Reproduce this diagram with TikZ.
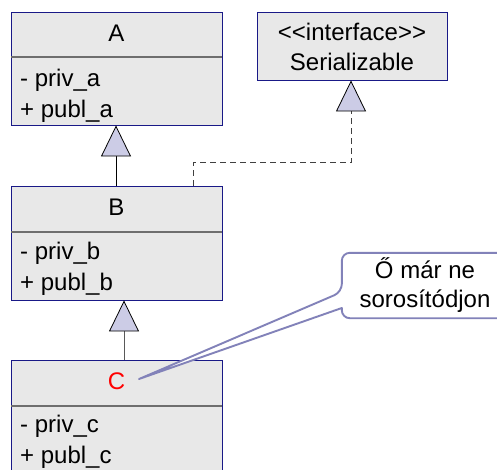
\documentclass[tikz,border=0pt]{standalone}
\usepackage{fontspec}
\setmainfont{Liberation Sans}
\usetikzlibrary{arrows.meta,positioning,calc}
\definecolor{umlborder}{RGB}{25,25,135}
\definecolor{umlfill}{RGB}{232,232,232}
\definecolor{umlsep}{RGB}{110,110,110}
\definecolor{trifill}{RGB}{204,204,230}
\definecolor{notecol}{RGB}{130,130,185}
\tikzset{
  classbox/.style={draw=umlborder, fill=umlfill, line width=0.9pt, inner sep=0pt},
  sepline/.style={draw=umlsep, line width=1.2pt},
  classname/.style={font=\fontsize{24}{28}\selectfont, anchor=base, inner sep=0pt},
  member/.style={font=\fontsize{24}{28}\selectfont, anchor=base west, inner sep=0pt},
  inherit/.style={-{Triangle[length=31pt,width=30pt,color=black,fill=trifill,line width=0.8pt]}, line width=0.9pt},
  realize/.style={inherit, draw=black!75, dash pattern=on 6pt off 4pt},
  notebox/.style={minimum width=166pt, minimum height=65pt, inner sep=0pt},
  noteline/.style={draw=notecol, fill=white, line width=1.9pt, line join=round},
  notetext/.style={font=\fontsize{24}{29}\selectfont, align=center, inner sep=0pt}
}
\begin{document}
\begin{tikzpicture}[x=1pt, y=-1pt]
\clip (0,0) rectangle (497,469);
\fill[white] (0,0) rectangle (497,469);
% classes
\node[classbox, minimum width=211pt, minimum height=113pt] (A) at (116.5,68.5) {};
\draw[sepline] (11,57) -- (222,57);
\node[classname] (Aname) at (116.5,41) {A};
\node[member] (Apriv) at (20,86) {- priv\_a};
\node[member] (Apubl) at (20,117) {+ publ\_a};

\node[classbox, minimum width=190pt, minimum height=68pt] (Ser) at (352,46) {};
\node[classname] (Sstereo) at (352,40) {<\kern0pt<interface>\kern0pt>};
\node[classname] (Sname) at (352,70) {Serializable};

\node[classbox, minimum width=211pt, minimum height=114pt] (B) at (116.5,243) {};
\draw[sepline] (11,232) -- (222,232);
\node[classname] (Bname) at (116.5,215) {B};
\node[member] (Bpriv) at (20,259) {- priv\_b};
\node[member] (Bpubl) at (20,290) {+ publ\_b};

\node[classbox, minimum width=211pt, minimum height=114pt] (C) at (116.5,417) {};
\draw[sepline] (11,406) -- (222,406);
\node[classname, text=red] (Cname) at (116.5,389) {C};
\node[member] (Cpriv) at (20,432) {- priv\_c};
\node[member] (Cpubl) at (20,463) {+ publ\_c};

% relations
\draw[inherit] ([xshift=-0.5pt]B.north) -- ([xshift=-0.5pt]A.south);
\draw[realize] ([xshift=76.5pt]B.north) -- ++(0,-23) -| ([xshift=-1pt]Ser.south);
\draw[inherit, draw=black!65] ([xshift=7.5pt]C.north) -- ([xshift=7.5pt]B.south);

% note
\node[notebox] (note) at (425,285.5) {};
\coordinate (tip) at (139,379);
\draw[noteline] ([yshift=-6.5pt]note.west) -- (tip) -- ([yshift=-22.5pt]note.west)
  [rounded corners=8pt] -- (note.south west) -- (note.south east) -- (note.north east)
  -- (note.north west) -- cycle;
\node[notetext] (notelabel) at (note.center) {Ő már ne\\sorosítódjon};
\end{tikzpicture}
\end{document}
